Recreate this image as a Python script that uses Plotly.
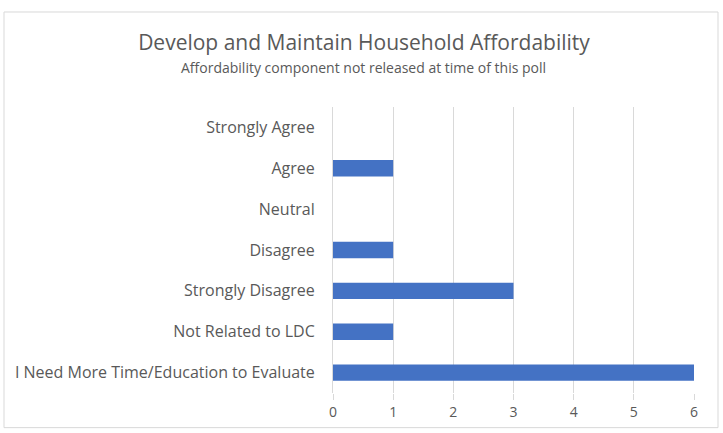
import plotly.graph_objects as go

categories = ["I Need More Time/Education to Evaluate", "Not Related to LDC", "Strongly Disagree",
              "Disagree", "Neutral", "Agree", "Strongly Agree"]
values = [6, 1, 3, 1, 0, 1, 0]
x_ticks = [0, 1, 2, 3, 4, 5, 6]

title_text = "Develop and Maintain Household Affordability"
subtitle_text = "Affordability component not released at time of this poll"

W, H = 723, 433
L, R, T, B = 333, 29, 107, 37
pw, ph = W - L - R, H - T - B

def px(x):
    return (x - L) / pw

def py(y):
    return (H - B - y) / ph

fig = go.Figure(go.Bar(
    x=values, y=categories, orientation="h",
    marker=dict(color="#4472C4", line=dict(width=0)),
    width=0.4,
))

fig.update_layout(
    width=W, height=H,
    margin=dict(l=L, r=R, t=T, b=B),
    paper_bgcolor="white", plot_bgcolor="white",
    font=dict(family="Open Sans, Calibri, sans-serif", color="#595959", size=12),
    showlegend=False,
    title=dict(text=title_text, x=364 / W, xanchor="center", y=1 - 43 / H, yanchor="middle",
               font=dict(size=21, color="#595959")),
    xaxis=dict(range=[0, 6], tickvals=x_ticks, showgrid=True, gridcolor="#D9D9D9", gridwidth=1,
               zeroline=False, ticks="outside", ticklen=6, tickcolor="#D9D9D9",
               tickfont=dict(size=14, color="#595959"), showline=False),
    yaxis=dict(categoryorder="array", categoryarray=categories, showgrid=False,
               ticks="", ticklabelstandoff=14,
               tickfont=dict(size=16, color="#595959"), showline=True, linecolor="#D9D9D9"),
    annotations=[dict(text=subtitle_text, x=px(363), y=py(67), xref="paper", yref="paper",
                      showarrow=False, xanchor="center", yanchor="middle",
                      font=dict(size=14, color="#595959"))],
    shapes=[dict(type="rect", xref="paper", yref="paper", x0=px(4), x1=px(718), y0=py(431), y1=py(11),
                 line=dict(color="#D9D9D9", width=1), fillcolor="rgba(0,0,0,0)", layer="below")],
)

fig.write_html("out.html")
